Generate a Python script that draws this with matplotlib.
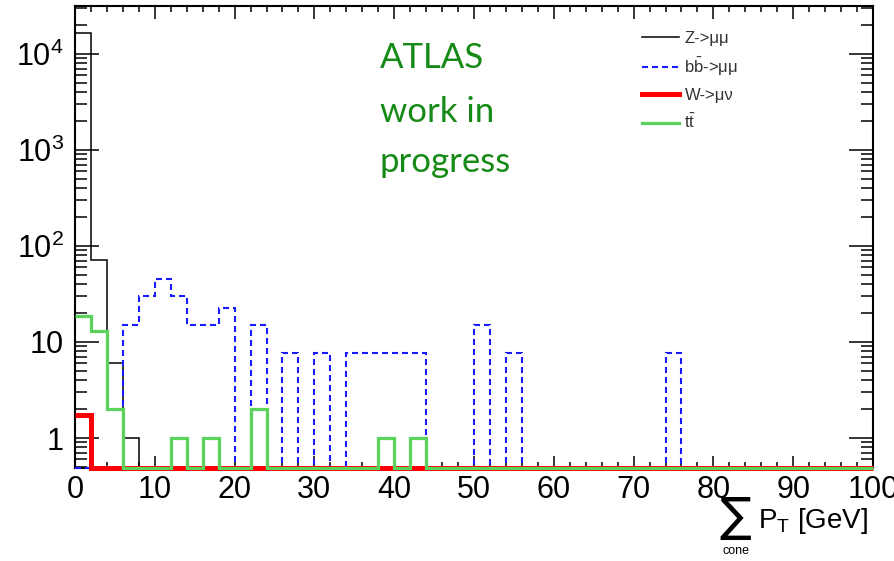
import matplotlib
matplotlib.use("Agg")
import matplotlib.pyplot as plt
import matplotlib.ticker as ticker
import numpy as np

plt.rcParams['font.family'] = ['Liberation Sans', 'DejaVu Sans']
plt.rcParams['mathtext.fontset'] = 'custom'
plt.rcParams['mathtext.rm'] = 'Liberation Sans'
plt.rcParams['mathtext.it'] = 'Liberation Sans:italic'

# 50 bins of 2 GeV between 0 and 100 GeV
bin_edges = np.arange(0, 102, 2)

z_mumu = [16600, 71, 6, 1, 0, 0, 0, 0, 0, 0,
          0, 0, 0, 0, 0, 0, 0, 0, 0, 0,
          0, 0, 0, 0, 0, 0, 0, 0, 0, 0,
          0, 0, 0, 0, 0, 0, 0, 0, 0, 0,
          0, 0, 0, 0, 0, 0, 0, 0, 0, 0]
bb_mumu = [0, 0, 0, 15.2, 30.4, 45.6, 30.4, 15.2, 15.2, 22.8,
           0, 15.2, 0, 7.6, 0, 7.6, 0, 7.6, 7.6, 7.6,
           7.6, 7.6, 0, 0, 0, 15.2, 0, 7.6, 0, 0,
           0, 0, 0, 0, 0, 0, 0, 7.6, 0, 0,
           0, 0, 0, 0, 0, 0, 0, 0, 0, 0]
w_munu = [1.74, 0, 0, 0, 0, 0, 0, 0, 0, 0,
          0, 0, 0, 0, 0, 0, 0, 0, 0, 0,
          0, 0, 0, 0, 0, 0, 0, 0, 0, 0,
          0, 0, 0, 0, 0, 0, 0, 0, 0, 0,
          0, 0, 0, 0, 0, 0, 0, 0, 0, 0]
ttbar = [18.7, 13, 2, 0, 0, 0, 1, 0, 1, 0,
         0, 2, 0, 0, 0, 0, 0, 0, 0, 1,
         0, 1, 0, 0, 0, 0, 0, 0, 0, 0,
         0, 0, 0, 0, 0, 0, 0, 0, 0, 0,
         0, 0, 0, 0, 0, 0, 0, 0, 0, 0]

labels = ['Z->μμ', r'b$\mathregular{\bar{b}}$->μμ', 'W->μν', r't$\mathregular{\bar{t}}$']

ymin, ymax = 0.487, 31600


def draw_hist(ax, values, **kw):
    # empty bins sit on the bottom of the frame like in ROOT
    v = np.asarray(values, dtype=float)
    v = np.where(v > 0, v, ymin)
    return ax.stairs(v, bin_edges, baseline=None, clip_on=False, **kw)


fig = plt.figure(figsize=(8.95, 5.61), dpi=100)
ax = fig.add_axes([75 / 895, 1 - 468 / 561, 798 / 895, 462 / 561])

h1 = draw_hist(ax, z_mumu, color='black', linewidth=1.1, zorder=2)
h2 = draw_hist(ax, bb_mumu, color='#1a1aff', linewidth=1.5,
               linestyle=(0, (2.9, 1.9)), zorder=3)
h3 = draw_hist(ax, w_munu, color='#ff0000', linewidth=3.6, zorder=4)
h4 = draw_hist(ax, ttbar, color='#5ad35a', linewidth=2.3, zorder=5)

ax.set_yscale('log')
ax.set_xlim(0, 100)
ax.set_ylim(ymin, ymax)

ax.xaxis.set_major_locator(ticker.MultipleLocator(10))
ax.xaxis.set_minor_locator(ticker.MultipleLocator(2))
ax.yaxis.set_major_locator(ticker.FixedLocator([1, 10, 100, 1e3, 1e4]))
ax.yaxis.set_major_formatter(ticker.FixedFormatter(
    ['1', '10', r'$\mathregular{10^{2}}$', r'$\mathregular{10^{3}}$', r'$\mathregular{10^{4}}$']))
ax.yaxis.set_minor_locator(ticker.LogLocator(subs=np.arange(2, 10), numticks=20))
ax.yaxis.set_minor_formatter(ticker.NullFormatter())

ax.tick_params(which='both', direction='in', top=True, right=True,
               width=1.1, labelsize=22)
ax.xaxis.set_tick_params(which='major', length=9, pad=5)
ax.xaxis.set_tick_params(which='minor', length=4.5)
ax.yaxis.set_tick_params(which='major', length=17, pad=8)
ax.yaxis.set_tick_params(which='minor', length=8.5)
for s in ax.spines.values():
    s.set_linewidth(1.5)

leg = ax.legend([h1, h2, h3, h4], labels, loc='upper left',
                bbox_to_anchor=(642 / 895, 1 - 31 / 561),
                bbox_transform=fig.transFigure, frameon=False,
                fontsize=12, handlelength=2.2, handletextpad=0.35,
                labelspacing=0.6, borderpad=0, borderaxespad=0)
for t in leg.get_texts():
    t.set_color('#333333')

# x axis title: sum over the cone of P_T
fig.text(735 / 895, 1 - 518 / 561, '∑', fontsize=34, family='DejaVu Sans',
         ha='center', va='center')
fig.text(736 / 895, 1 - 551 / 561, 'cone', fontsize=9, ha='center', va='center')
fig.text(758 / 895, 1 - 528 / 561, r'$\mathregular{P_T}$ [GeV]', fontsize=20,
         ha='left', va='baseline')

green = '#168a16'
for txt, yb in [('ATLAS', 68), ('work in', 122), ('progress', 172)]:
    fig.text(380 / 895, 1 - yb / 561, txt, fontsize=25, family='Lato',
             color=green, ha='left', va='baseline')

fig.savefig('out.png', dpi=100)
